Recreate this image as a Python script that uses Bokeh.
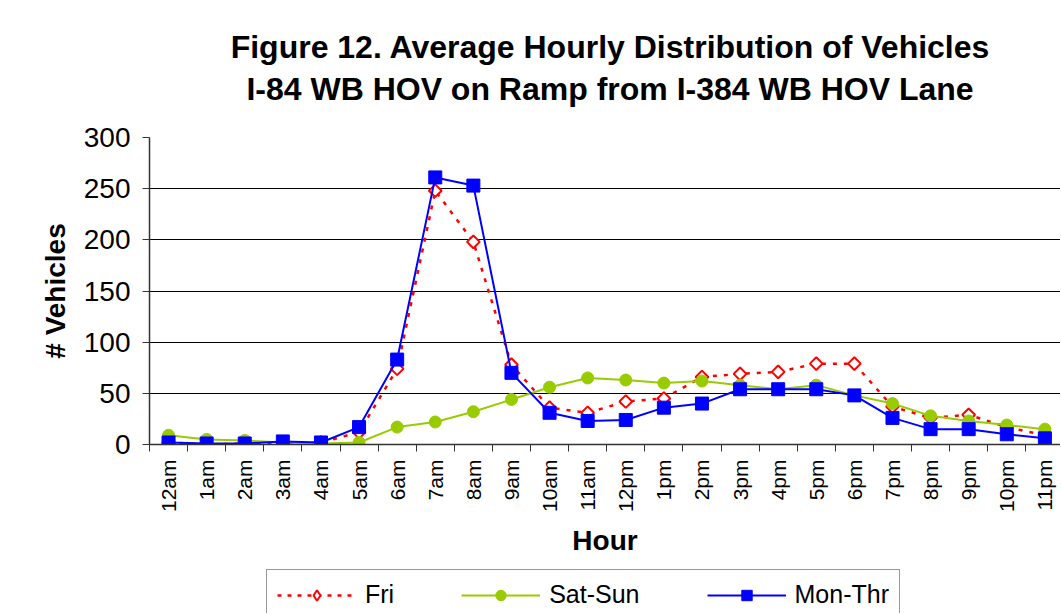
import numpy as np
from bokeh.plotting import figure
from bokeh.layouts import column
from bokeh.models import FixedTicker, Legend, LegendItem, Range1d, Div
from bokeh.embed import file_html
from bokeh.resources import INLINE

title_lines = ["Figure 12. Average Hourly Distribution of Vehicles",
               "I-84 WB HOV on Ramp from I-384 WB HOV Lane"]
hours = ["12am", "1am", "2am", "3am", "4am", "5am", "6am", "7am", "8am", "9am", "10am", "11am",
         "12pm", "1pm", "2pm", "3pm", "4pm", "5pm", "6pm", "7pm", "8pm", "9pm", "10pm", "11pm"]
fri = [2, 0, 1, 0, 2, 12, 74, 248, 198, 78, 36, 31, 42, 45, 66, 69, 71, 79, 79, 37, 26, 29, 17, 9]
sat_sun = [9, 5, 4, 2, 1, 2, 17, 22, 32, 44, 56, 65, 63, 60, 62, 58, 54, 58, 48, 40, 28, 23, 19, 15]
mon_thr = [2, 1, 1, 3, 2, 17, 83, 261, 253, 70, 31, 23, 24, 36, 40, 54, 54, 54, 48, 26, 15, 15, 10, 6]
y_ticks = [0, 50, 100, 150, 200, 250, 300]
series_names = ["Fri", "Sat-Sun", "Mon-Thr"]

FONT = "Liberation Sans"
RED, GREEN, BLUE = "#FF0000", "#99CC00", "#0000FF"
x = list(range(len(hours)))

# title block
title = Div(text=("<div style=\"width:1060px;box-sizing:border-box;padding:26px 0 0 160px;"
                  "text-align:center;font-family:'Liberation Sans';font-size:32px;font-weight:bold;"
                  "line-height:42px;color:black;white-space:nowrap\">"
                  + "<br>".join(title_lines) + "</div>"),
            width=1060, height=110, margin=0)

p = figure(width=1060, height=459, output_backend="svg", toolbar_location=None,
           x_range=Range1d(-0.5, 23.41), y_range=Range1d(0, 300),
           min_border_left=149, min_border_right=0, min_border_top=27, min_border_bottom=125)
p.outline_line_color = None
p.background_fill_color = "white"
p.border_fill_color = "white"

# x axis
p.xaxis.ticker = FixedTicker(ticks=x, minor_ticks=[i - 0.5 for i in range(len(hours) + 1)])
p.xaxis.major_label_overrides = {i: h for i, h in enumerate(hours)}
p.xaxis.major_label_orientation = np.pi / 2
p.xaxis.major_tick_out = 0
p.xaxis.major_tick_in = 0
p.xaxis.minor_tick_out = 7
p.xaxis.minor_tick_in = 0
p.xaxis.minor_tick_line_color = "#333333"
p.xaxis.axis_line_color = "#333333"
p.xaxis.axis_line_width = 1.5
p.xaxis.major_label_standoff = 8
p.xaxis.major_label_text_font = FONT
p.xaxis.major_label_text_font_size = "21px"
p.xaxis.major_label_text_color = "black"
p.xaxis.axis_label = "Hour"
p.xaxis.axis_label_text_font = FONT
p.xaxis.axis_label_text_font_size = "28px"
p.xaxis.axis_label_text_font_style = "bold"
p.xaxis.axis_label_text_color = "black"
p.xaxis.axis_label_standoff = 10

# y axis
p.yaxis.ticker = FixedTicker(ticks=y_ticks, minor_ticks=[])
p.yaxis.major_tick_out = 7
p.yaxis.major_tick_in = 0
p.yaxis.major_tick_line_color = "#333333"
p.yaxis.axis_line_color = "#333333"
p.yaxis.axis_line_width = 1.5
p.yaxis.major_label_standoff = 12
p.yaxis.major_label_text_font = FONT
p.yaxis.major_label_text_font_size = "28px"
p.yaxis.major_label_text_color = "black"
p.yaxis.axis_label = "# Vehicles"
p.yaxis.axis_label_text_font = FONT
p.yaxis.axis_label_text_font_size = "28px"
p.yaxis.axis_label_text_font_style = "bold"
p.yaxis.axis_label_text_color = "black"
p.yaxis.axis_label_standoff = 10

p.xgrid.grid_line_color = None
p.ygrid.ticker = FixedTicker(ticks=y_ticks)
p.ygrid.grid_line_color = "black"
p.ygrid.grid_line_width = 1.2

# series (Excel order: Fri, Sat-Sun, Mon-Thr on top)
p.line(x, fri, line_color=RED, line_width=2.5, line_dash="4 7")
p.scatter(x, fri, marker="square", angle=np.pi / 4, size=9, line_color=RED, line_width=2,
          fill_color="white")
p.line(x, sat_sun, line_color=GREEN, line_width=2)
p.scatter(x, sat_sun, marker="circle", size=12, line_color=GREEN, fill_color=GREEN)
p.line(x, mon_thr, line_color=BLUE, line_width=2)
p.scatter(x, mon_thr, marker="square", size=13, line_color=BLUE, fill_color=BLUE)

# legend strip (separate small figure below the chart; its frame is aligned with the chart's).
# The same series are drawn here only to give the legend its glyphs; the ranges keep them out of view.
lg = figure(width=1060, height=44, output_backend="svg", toolbar_location=None,
            x_range=Range1d(-1000, -999), y_range=Range1d(-1000, -999),
            x_axis_location=None, y_axis_location=None,
            min_border_left=0, min_border_right=0, min_border_top=0, min_border_bottom=0)
lg.grid.visible = False
lg.outline_line_color = None
lg.background_fill_color = "white"
lg.border_fill_color = "white"
r1 = [lg.line(x, fri, line_color=RED, line_width=2.5, line_dash="4 6"),
      lg.scatter(x, fri, marker="diamond", size=14, line_color=RED, line_width=2, fill_color="white")]
r2 = [lg.line(x, sat_sun, line_color=GREEN, line_width=2),
      lg.scatter(x, sat_sun, marker="circle", size=12, line_color=GREEN, fill_color=GREEN)]
r3 = [lg.line(x, mon_thr, line_color=BLUE, line_width=2),
      lg.scatter(x, mon_thr, marker="square", size=12, line_color=BLUE, fill_color=BLUE)]
legend = Legend(items=[LegendItem(label=series_names[0], renderers=r1),
                       LegendItem(label=series_names[1], renderers=r2),
                       LegendItem(label=series_names[2], renderers=r3)],
                orientation="horizontal", location=(117, -7),
                glyph_width=79, glyph_height=26, label_standoff=9, spacing=67, padding=10,
                label_text_font=FONT, label_text_font_size="25px", label_text_color="black",
                border_line_color="#333333", border_line_width=1.5, background_fill_alpha=1,
                margin=0)
lg.add_layout(legend, "center")

layout = column(title, p, lg, spacing=0)
open("out.html", "w").write(file_html(layout, INLINE))
